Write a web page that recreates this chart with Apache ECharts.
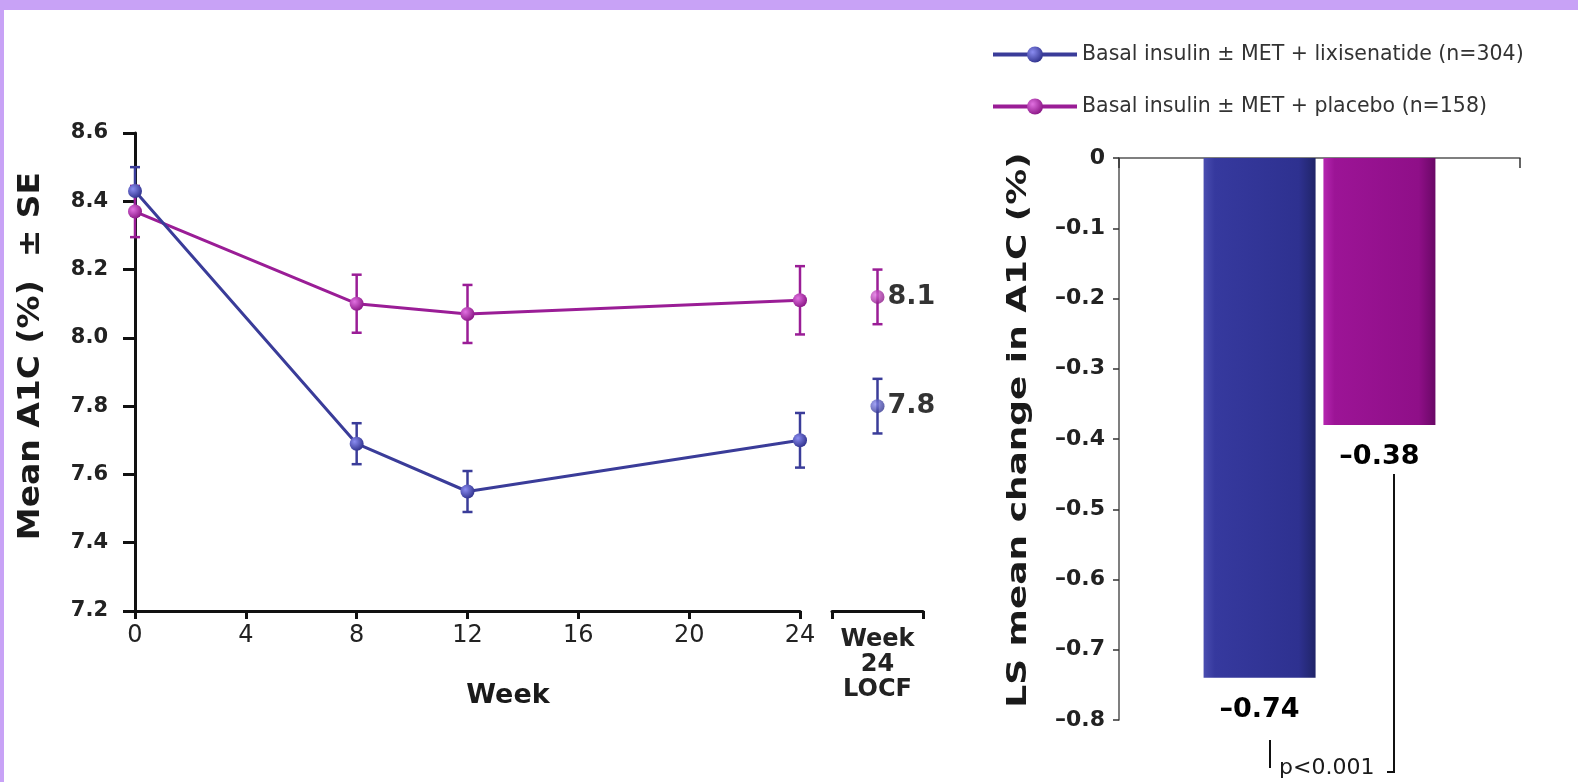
<!DOCTYPE html>
<html>
<head>
<meta charset="utf-8">
<script src="https://cdn.jsdelivr.net/npm/echarts@6/dist/echarts.min.js"></script>
<style>
  html, body { margin: 0; padding: 0; background: #fff; }
  #main { width: 1578px; height: 782px; }
</style>
</head>
<body>
<div id="main"></div>
<script>
// weeks with measured visits
var weeks = [0, 8, 12, 24];
var lixiMean = [8.43, 7.69, 7.55, 7.70];
var lixiSE = [0.07, 0.06, 0.06, 0.08];
var placeboMean = [8.37, 8.10, 8.07, 8.11];
var placeboSE = [0.075, 0.085, 0.085, 0.10];

// week 24 LOCF
var locfLabel = 'Week\n24\nLOCF';
var lixiLocf = [7.80];
var lixiLocfSE = [0.08];
var placeboLocf = [8.12];
var placeboLocfSE = [0.08];

// LS mean change bars
var barCategory = ['LS mean change'];
var lixiChange = [-0.74];
var placeboChange = [-0.38];

var seriesNames = ['Basal insulin \u00b1 MET + lixisenatide (n=304)', 'Basal insulin \u00b1 MET + placebo (n=158)'];

var blue = '#3a3c99';
var purple = '#9a1d96';
var font = '"DejaVu Sans", "Liberation Sans", Arial, sans-serif';

function sphere(light, dark) {
    return new echarts.graphic.RadialGradient(0.35, 0.35, 0.75, [
        { offset: 0, color: light },
        { offset: 1, color: dark }
    ]);
}

function pairs(xs, ys) {
    return xs.map(function (x, i) { return [x, ys[i]]; });
}
function bars(xs, ys, se) {
    return xs.map(function (x, i) { return [x, ys[i] - se[i], ys[i] + se[i]]; });
}

function errorBar(color) {
    return function (params, api) {
        var top = api.coord([api.value(0), api.value(2)]);
        var bot = api.coord([api.value(0), api.value(1)]);
        var cap = 5;
        var st = { stroke: color, lineWidth: 2.5 };
        return {
            type: 'group',
            children: [
                { type: 'line', shape: { x1: top[0], y1: top[1], x2: bot[0], y2: bot[1] }, style: st },
                { type: 'line', shape: { x1: top[0] - cap, y1: top[1], x2: top[0] + cap, y2: top[1] }, style: st },
                { type: 'line', shape: { x1: bot[0] - cap, y1: bot[1], x2: bot[0] + cap, y2: bot[1] }, style: st }
            ]
        };
    };
}

var chart = echarts.init(document.getElementById('main'));

var valueLabel = { show: true, position: 'right', distance: 3, fontSize: 27, fontWeight: 'bold', color: '#000',
    formatter: function (p) { return p.value[1].toFixed(1); } };
var barLabel = { show: true, position: 'bottom', distance: 19, fontSize: 27, fontWeight: 'bold', color: '#000',
    formatter: function (p) { return '\u2013' + Math.abs(p.value).toFixed(2); } };

var option = {
    backgroundColor: '#fff',
    animation: false,
    textStyle: { fontFamily: font },
    legend: {
        left: 986,
        top: 39,
        orient: 'vertical',
        itemWidth: 84,
        itemHeight: 20,
        itemGap: 31,
        data: seriesNames,
        lineStyle: { width: 4 },
        textStyle: { fontSize: 20.5, color: '#333', fontFamily: font }
    },
    grid: [
        { left: 135, right: 778, top: 133, bottom: 171 },
        { left: 832, right: 655, top: 133, bottom: 171 },
        { left: 1119, right: 58, top: 158, bottom: 62 }
    ],
    xAxis: [{
        gridIndex: 0, type: 'value', min: 0, max: 24, interval: 4,
        axisLine: { lineStyle: { color: '#111', width: 3 } },
        axisTick: { length: 8, lineStyle: { color: '#111', width: 3 } },
        axisLabel: { fontSize: 24, color: '#222', margin: 13 },
        splitLine: { show: false }
    }, {
        gridIndex: 1, type: 'value', min: -1, max: 1,
        axisLine: { onZero: false, lineStyle: { color: '#111', width: 3 } },
        axisTick: { length: 8, customValues: [-1, 1], lineStyle: { color: '#111', width: 3 } },
        axisLabel: { customValues: [0], fontSize: 24, fontWeight: 'bold', color: '#222', margin: 16, lineHeight: 25,
            formatter: function () { return locfLabel; } },
        splitLine: { show: false }
    }, {
        gridIndex: 2, type: 'category', data: barCategory, position: 'top',
        axisLine: { lineStyle: { color: '#555', width: 1.5 } },
        axisTick: { show: true, interval: 0, inside: true, length: 10, lineStyle: { color: '#333', width: 1.5 } },
        axisLabel: { show: false }
    }],
    yAxis: [{
        gridIndex: 0, type: 'value', min: 7.2, max: 8.6, interval: 0.2,
        axisLine: { show: true, lineStyle: { color: '#111', width: 3 } },
        axisTick: { show: true, length: 12, lineStyle: { color: '#111', width: 3 } },
        axisLabel: { fontSize: 21, fontWeight: 'bold', color: '#222', margin: 27,
            formatter: function (v) { return v.toFixed(1); } },
        splitLine: { show: false }
    }, {
        gridIndex: 1, type: 'value', min: 7.2, max: 8.6, show: false
    }, {
        gridIndex: 2, type: 'value', min: -0.8, max: 0, interval: 0.1,
        axisLine: { show: true, lineStyle: { color: '#555', width: 1.5 } },
        axisTick: { show: true, length: 6, lineStyle: { color: '#333', width: 1.5 } },
        axisLabel: { fontSize: 22, fontWeight: 'bold', color: '#222', margin: 14,
            formatter: function (v) { return v === 0 ? '0' : '\u2013' + Math.abs(v).toFixed(1); } },
        splitLine: { show: false }
    }],
    series: [{
        name: seriesNames[0], type: 'line', xAxisIndex: 0, yAxisIndex: 0, z: 4,
        data: pairs(weeks, lixiMean),
        symbol: 'circle', symbolSize: 14,
        lineStyle: { color: blue, width: 3 },
        itemStyle: { color: sphere('#8a8cf0', '#2a2c86') }
    }, {
        name: seriesNames[1], type: 'line', xAxisIndex: 0, yAxisIndex: 0, z: 3,
        data: pairs(weeks, placeboMean),
        symbol: 'circle', symbolSize: 14,
        lineStyle: { color: purple, width: 3 },
        itemStyle: { color: sphere('#e070e0', '#84107f') }
    }, {
        name: 'lixiErr', type: 'custom', xAxisIndex: 0, yAxisIndex: 0, z: 2,
        data: bars(weeks, lixiMean, lixiSE), renderItem: errorBar(blue)
    }, {
        name: 'placeboErr', type: 'custom', xAxisIndex: 0, yAxisIndex: 0, z: 2,
        data: bars(weeks, placeboMean, placeboSE), renderItem: errorBar(purple)
    }, {
        name: 'lixiLocfErr', type: 'custom', xAxisIndex: 1, yAxisIndex: 1, z: 2,
        data: bars([0], lixiLocf, lixiLocfSE), renderItem: errorBar(blue)
    }, {
        name: 'placeboLocfErr', type: 'custom', xAxisIndex: 1, yAxisIndex: 1, z: 2,
        data: bars([0], placeboLocf, placeboLocfSE), renderItem: errorBar(purple)
    }, {
        name: seriesNames[0], type: 'scatter', xAxisIndex: 1, yAxisIndex: 1, z: 4,
        data: pairs([0], lixiLocf), symbolSize: 14,
        itemStyle: { color: sphere('#8a8cf0', '#2a2c86') },
        label: valueLabel
    }, {
        name: seriesNames[1], type: 'scatter', xAxisIndex: 1, yAxisIndex: 1, z: 4,
        data: pairs([0], placeboLocf), symbolSize: 14,
        itemStyle: { color: sphere('#e070e0', '#84107f') },
        label: valueLabel
    }, {
        name: 'lixiBar', type: 'bar', xAxisIndex: 2, yAxisIndex: 2,
        data: lixiChange, barWidth: 112, barGap: '7%',
        itemStyle: {
            color: new echarts.graphic.LinearGradient(0, 0, 1, 0, [
                { offset: 0, color: '#4a4db0' }, { offset: 0.1, color: '#36399e' },
                { offset: 0.85, color: '#2e3190' }, { offset: 1, color: '#202468' }
            ])
        },
        label: barLabel
    }, {
        name: 'placeboBar', type: 'bar', xAxisIndex: 2, yAxisIndex: 2,
        data: placeboChange, barWidth: 112,
        itemStyle: {
            color: new echarts.graphic.LinearGradient(0, 0, 1, 0, [
                { offset: 0, color: '#b526b0' }, { offset: 0.1, color: '#9c1496' },
                { offset: 0.85, color: '#8f0f88' }, { offset: 1, color: '#6a0866' }
            ])
        },
        label: barLabel
    }],
    graphic: [
        // frame
        { type: 'rect', left: 0, top: 0, shape: { width: 1578, height: 10 }, style: { fill: '#c8a2f6' } },
        { type: 'rect', left: 0, top: 0, shape: { width: 4, height: 782 }, style: { fill: '#c8a2f6' } },
        // titles
        { type: 'text', x: 31, y: 356, rotation: Math.PI / 2, scaleX: 1.1,
          style: { text: 'Mean A1C (%)  \u00b1 SE', font: 'bold 30px ' + font, fill: '#1a1a1a', align: 'center', verticalAlign: 'middle' } },
        { type: 'text', x: 508, y: 696,
          style: { text: 'Week', font: 'bold 27px ' + font, fill: '#1a1a1a', align: 'center', verticalAlign: 'middle' } },
        { type: 'text', x: 1019, y: 430, rotation: Math.PI / 2, scaleX: 1.33,
          style: { text: 'LS mean change in A1C (%)', font: 'bold 27px ' + font, fill: '#1a1a1a', align: 'center', verticalAlign: 'middle' } },
        // p-value bracket
        { type: 'polyline', shape: { points: [[1394, 474], [1394, 772], [1387, 772]] },
          style: { stroke: '#111', lineWidth: 2, fill: null } },
        { type: 'line', shape: { x1: 1270, y1: 740, x2: 1270, y2: 768 }, style: { stroke: '#111', lineWidth: 2 } },
        { type: 'text', x: 1279, y: 768,
          style: { text: 'p<0.001', font: '22px ' + font, fill: '#1a1a1a', align: 'left', verticalAlign: 'middle' } }
    ]
};

chart.setOption(option);
window.addEventListener('resize', chart.resize);
</script>
</body>
</html>
